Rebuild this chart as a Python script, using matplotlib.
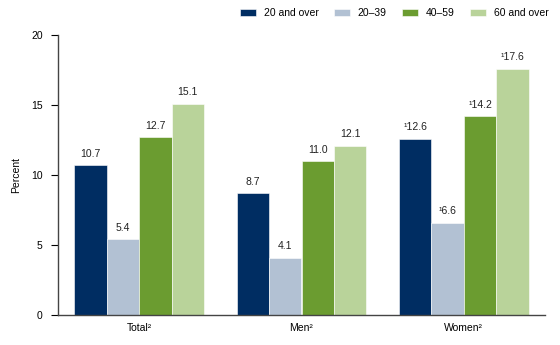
import matplotlib.pyplot as plt
import numpy as np

plt.rcParams['font.family'] = ['Liberation Sans', 'DejaVu Sans']

# Data
groups = ['Total\u00b2', 'Men\u00b2', 'Women\u00b2']
ages = ['20 and over', '20\u201339', '40\u201359', '60 and over']
values = {
    '20 and over': [10.7, 8.7, 12.6],
    '20\u201339': [5.4, 4.1, 6.6],
    '40\u201359': [12.7, 11.0, 14.2],
    '60 and over': [15.1, 12.1, 17.6],
}
labels = {
    '20 and over': ['10.7', '8.7', '\u00b912.6'],
    '20\u201339': ['5.4', '4.1', '\u00b96.6'],
    '40\u201359': ['12.7', '11.0', '\u00b914.2'],
    '60 and over': ['15.1', '12.1', '\u00b917.6'],
}
colors = ['#002D62', '#B2C1D3', '#6B9C30', '#B9D39A']

fig = plt.figure(figsize=(5.6, 3.45), dpi=100)
ax = fig.add_axes([58 / 560, 30 / 345, 487 / 560, 280 / 345])

x = np.arange(len(groups))
width = 0.2
for i, age in enumerate(ages):
    pos = x + (i - 1.5) * width
    bars = ax.bar(pos, values[age], width, color=colors[i], label=age,
                  edgecolor='white', linewidth=0.4, zorder=2)
    for b, txt in zip(bars, labels[age]):
        ax.text(b.get_x() + b.get_width() / 2, b.get_height() + 0.45, txt,
                ha='center', va='bottom', fontsize=7.5, color='#222222')

ax.set_xlim(-0.5, 2.5)
ax.set_ylim(0, 20)
ax.set_yticks([0, 5, 10, 15, 20])
ax.set_xticks(x)
ax.set_xticklabels(groups)
ax.tick_params(axis='x', length=0, labelsize=7.5, pad=6)
ax.tick_params(axis='y', length=5, width=0.8, labelsize=7.5, direction='out', pad=6)
ax.set_ylabel('Percent', fontsize=7.5, labelpad=7)

for s in ['top', 'right']:
    ax.spines[s].set_visible(False)
for s in ['left', 'bottom']:
    ax.spines[s].set_color('#444444')
    ax.spines[s].set_linewidth(1.0)

fig.legend(loc='upper left', bbox_to_anchor=(240 / 560, 1 - 8 / 345), ncol=4,
           frameon=False, fontsize=7.5, handlelength=1.55, handleheight=0.75,
           handletextpad=0.75, columnspacing=1.45, borderpad=0, borderaxespad=0)

fig.savefig('out.png', dpi=100)
